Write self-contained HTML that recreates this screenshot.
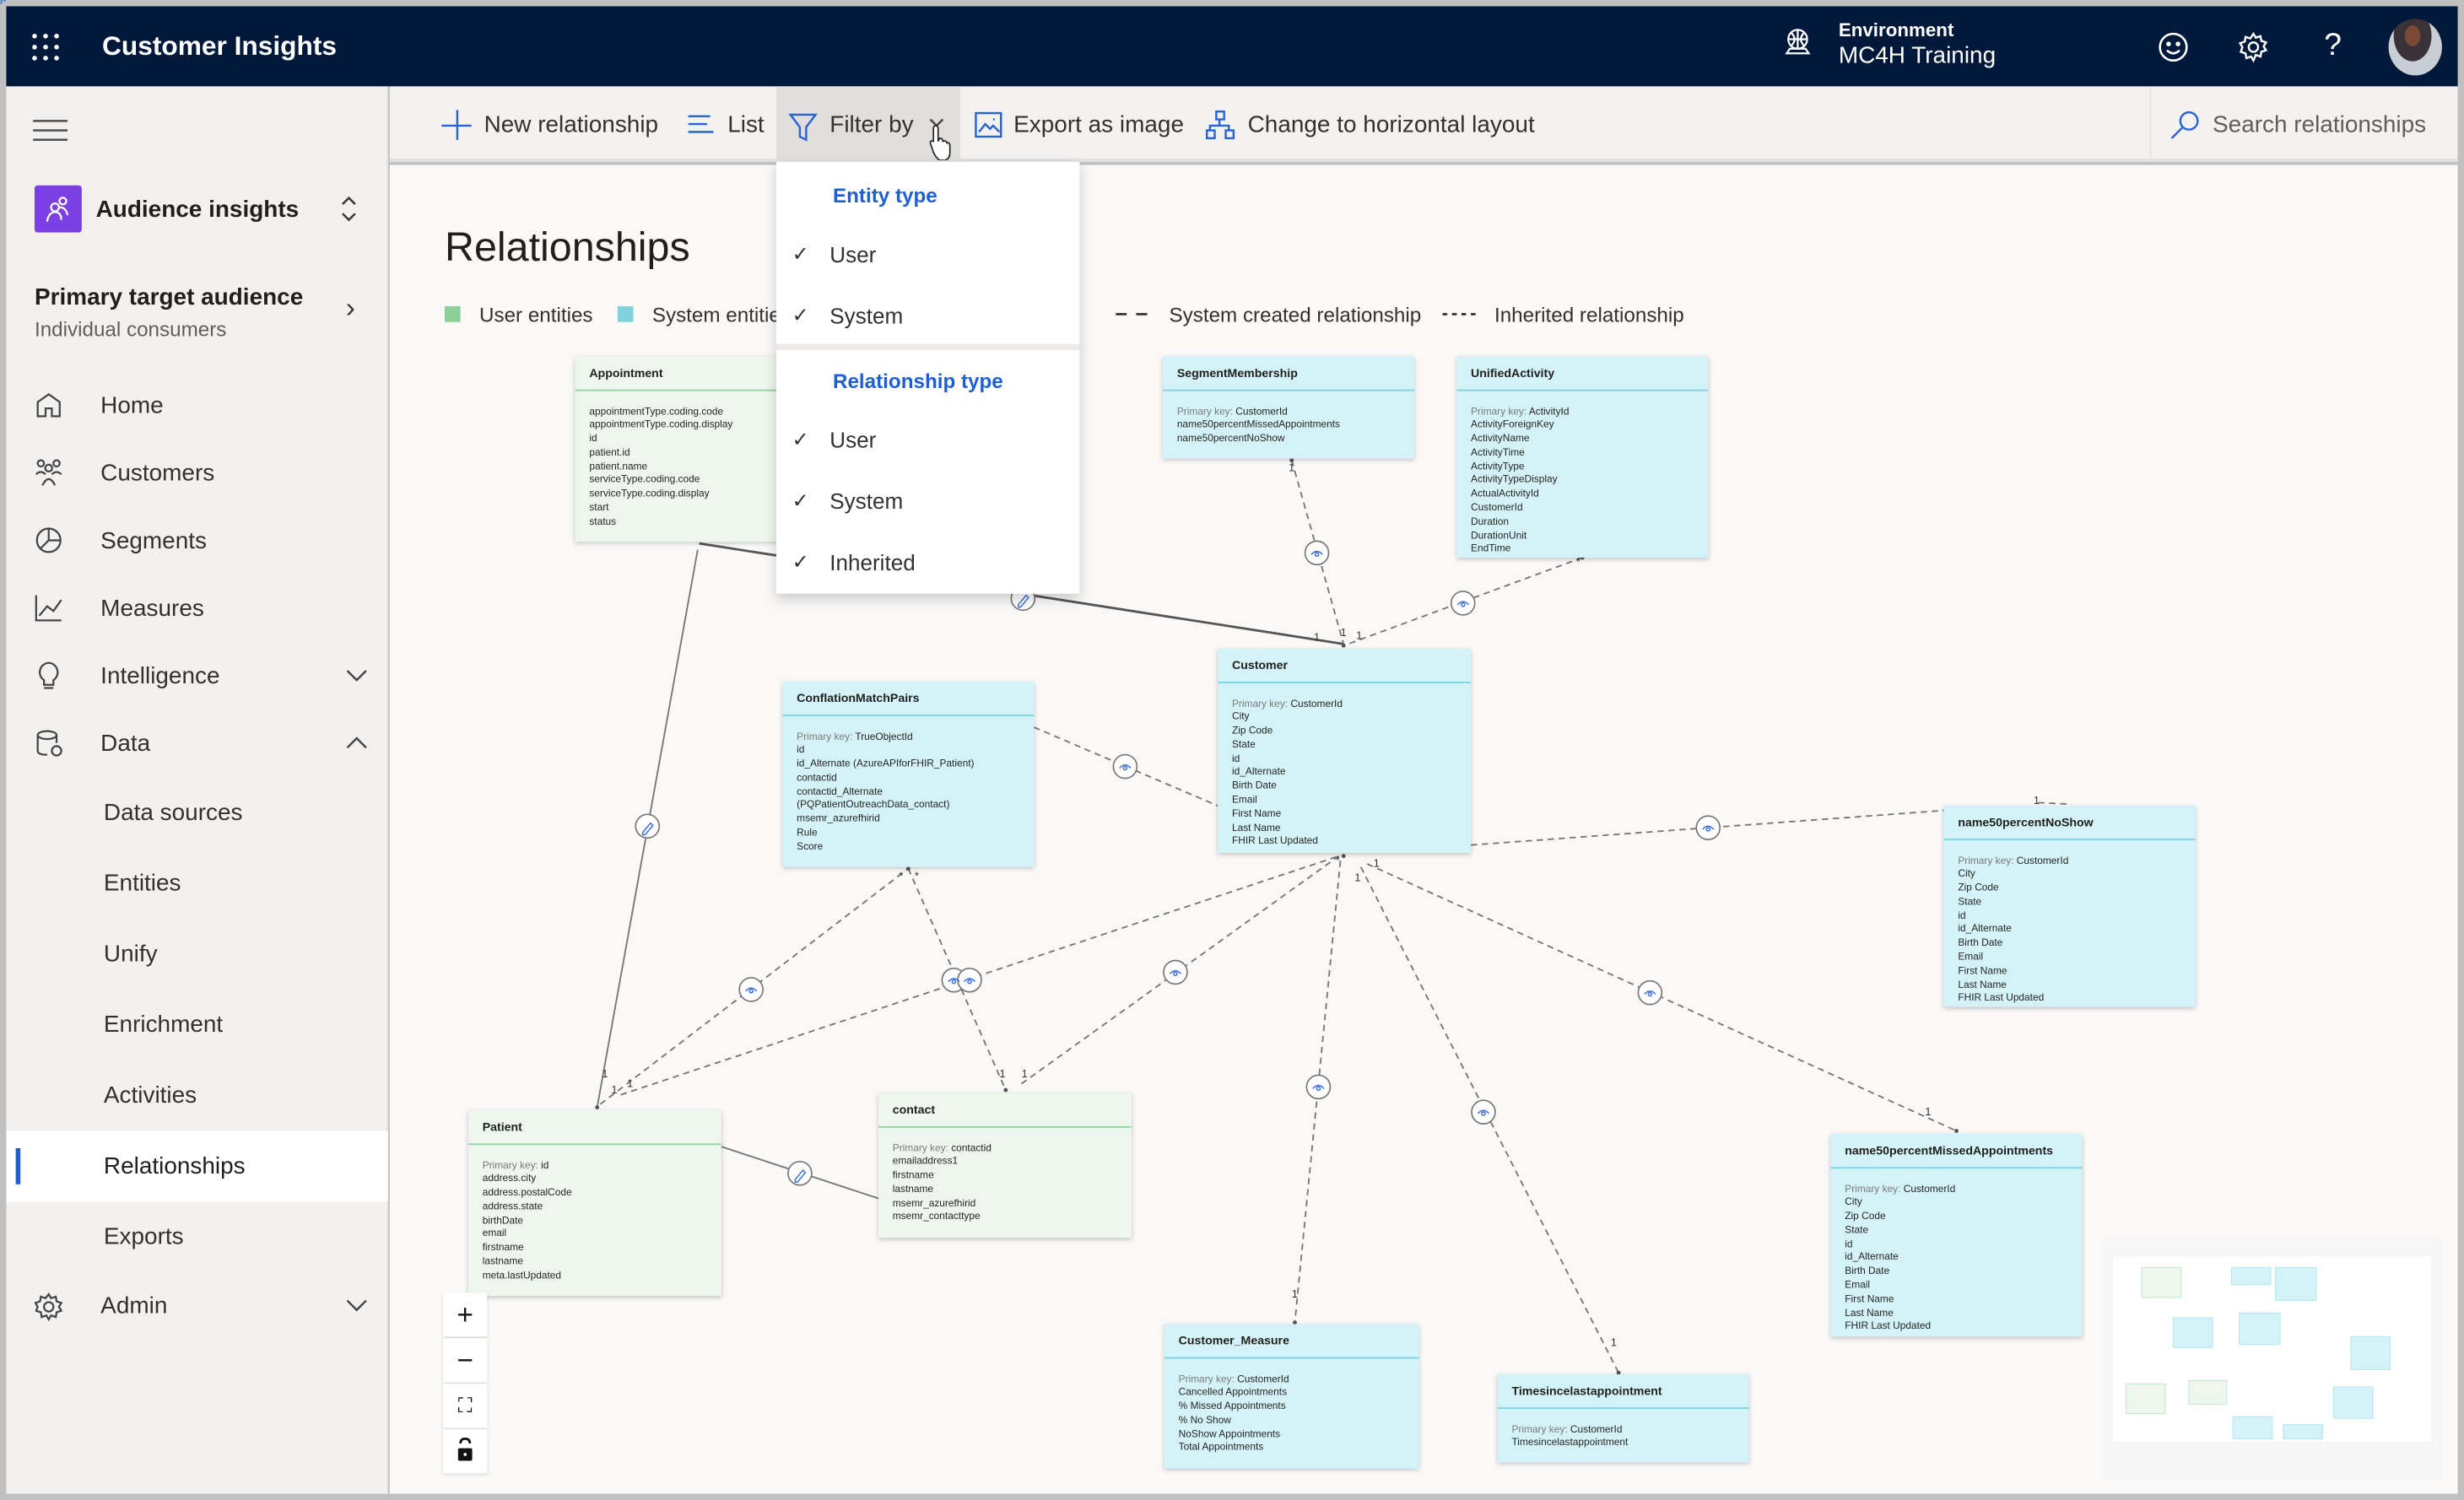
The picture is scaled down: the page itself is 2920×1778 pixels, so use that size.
<!DOCTYPE html>
<html><head><meta charset="utf-8"><style>
*{margin:0;padding:0;box-sizing:border-box}
html,body{width:2920px;height:1778px;overflow:hidden;background:#c0c0c0}
#w{position:absolute;left:0;top:0;width:1568px;height:955px;transform:scale(1.86224,1.8618);transform-origin:0 0;font-family:"Liberation Sans",Arial,sans-serif;color:#201f1e;background:#c0c0c0}
.a{position:absolute;white-space:nowrap}
#top{left:4px;top:4px;width:1560px;height:51px;background:#00183a;color:#fff}
#side{left:4px;top:55px;width:243px;height:896px;background:#f2f1f0;border-right:1px solid #e6e6e6}
#tb{left:248px;top:55px;width:1316px;height:48px;background:#f3f2f1;border-bottom:2px solid #e4e2e0}
#cv{left:248px;top:105px;width:1316px;height:846px;background:#faf9f8}
.nav{font-size:15px;color:#323130}
.ent{position:absolute;box-shadow:0 1px 3px rgba(0,0,0,.22);font-size:6.4px;color:#252423}
.ent.g{background:#edf7ee}.ent.c{background:#d4f3f8}
.ent .h{height:22px;border-bottom:1px solid;padding:6px 0 0 9px;font-size:7.6px;font-weight:bold;color:#201f1e}
.g .h{border-color:#93d3a2}.c .h{border-color:#7ed4e2}
.ent .b{padding:9.5px 9px;line-height:8.8px;white-space:nowrap}
.pk{color:#7a7a7a}
#dd{left:494px;top:103px;width:193px;height:275px;background:#fff;box-shadow:0 3px 8px rgba(0,0,0,.2)}
.dh{font-size:13px;color:#1f5fd6;font-weight:bold;left:36px}
.di{font-size:14px;color:#323130;left:34px}
.ck{left:10px;font-size:13px;color:#323130}
.zb{position:absolute;left:282px;width:28px;height:28px;background:#fff;box-shadow:0 1px 2px rgba(0,0,0,.15);text-align:center;font-size:18px;line-height:28px;color:#111}
</style></head><body><div id="w">
<div id="top" class="a"></div>
<svg class="a" style="left:20px;top:21px" width="18" height="18"><g fill="#fff"><circle cx="2" cy="2" r="1.5"/><circle cx="9" cy="2" r="1.5"/><circle cx="16" cy="2" r="1.5"/><circle cx="2" cy="9" r="1.5"/><circle cx="9" cy="9" r="1.5"/><circle cx="16" cy="9" r="1.5"/><circle cx="2" cy="16" r="1.5"/><circle cx="9" cy="16" r="1.5"/><circle cx="16" cy="16" r="1.5"/></g></svg>
<div class="a" style="left:65px;top:20px;font-size:17px;font-weight:bold;color:#fff">Customer Insights</div>
<svg class="a" style="left:1134px;top:17px" width="20" height="20" fill="none" stroke="#fff" stroke-width="1.2"><circle cx="10" cy="8" r="6"/><path d="M4 8h12M10 2v12M6 4q4 4 0 8M14 4q-4 4 0 8M3 17h14l-2-3H5z"/></svg>
<div class="a" style="left:1170px;top:12px;font-size:12px;font-weight:bold;color:#fff">Environment</div>
<div class="a" style="left:1170px;top:27px;font-size:15px;color:#fff">MC4H Training</div>
<svg class="a" style="left:1373px;top:20px" width="20" height="20" fill="none" stroke="#fff" stroke-width="1.4"><circle cx="10" cy="10" r="8.5"/><circle cx="7" cy="8" r=".8" fill="#fff"/><circle cx="13" cy="8" r=".8" fill="#fff"/><path d="M6 12q4 4 8 0"/></svg>
<svg class="a" style="left:1424px;top:20px" width="20" height="20" fill="none" stroke="#fff" stroke-width="1.3"><circle cx="10" cy="10" r="3"/><path d="M10 1.5l1.5 2.5 3-1 .5 3 3 1-1.5 2.5 1.5 2.5-3 1-.5 3-3-1L10 18.5l-1.5-2.5-3 1-.5-3-3-1L3 10 1.5 7.5l3-1 .5-3 3 1z"/></svg>
<div class="a" style="left:1479px;top:18px;font-size:20px;color:#fff">?</div>
<div class="a" style="left:1520px;top:12px;width:34px;height:36px;border-radius:50%;background:radial-gradient(ellipse at 45% 30%,#7a4a36 0 18%,#3a3236 19% 45%,#c9ced6 46%)"></div>

<div id="side" class="a"></div>
<svg class="a" style="left:21px;top:75px" width="22" height="16" stroke="#555" stroke-width="1.4"><path d="M0 2h22M0 8h22M0 14h22"/></svg>
<div class="a" style="left:22px;top:118px;width:30px;height:30px;background:#7b3fe4;border-radius:2px"></div>
<svg class="a" style="left:27px;top:123px" width="20" height="20" fill="none" stroke="#fff" stroke-width="1.2"><circle cx="8" cy="9" r="2.5"/><circle cx="13" cy="5" r="2.2"/><path d="M3 18q1-6 5-6t4 5M11 9q4 0 5 5"/></svg>
<div class="a nav" style="left:61px;top:125px;font-weight:bold;color:#201f1e">Audience insights</div>
<svg class="a" style="left:216px;top:124px" width="12" height="18" fill="none" stroke="#333" stroke-width="1.3"><path d="M2 6l4-4 4 4M2 12l4 4 4-4"/></svg>
<div class="a nav" style="left:22px;top:181px;font-weight:bold;color:#201f1e">Primary target audience</div>
<div class="a" style="left:22px;top:202px;font-size:13px;color:#605e5c">Individual consumers</div>
<div class="a" style="left:220px;top:186px;font-size:18px;color:#333">›</div>
<svg class="a" style="left:22px;top:249px" width="18" height="600" fill="none" stroke="#444" stroke-width="1.2">
<path d="M2 16V7l7-5 7 5v9H11v-5H7v5z"/>
<g transform="translate(0,43)"><circle cx="4" cy="3" r="2"/><circle cx="14" cy="3" r="2"/><circle cx="9" cy="6" r="2.2"/><path d="M1 10q3-3 6 0M11 10q3-3 6 0M5 17q4-8 8 0"/></g>
<g transform="translate(0,86)"><circle cx="9" cy="9" r="7.5"/><path d="M9 1.5V9l-5 5M9 9h7"/></g>
<g transform="translate(0,129)"><path d="M1 1v16h16M3 14l5-6 4 3 5-7"/></g>
<g transform="translate(0,172)"><path d="M9 1a6 6 0 0 1 3 11v3H6v-3A6 6 0 0 1 9 1zM6 17h6"/></g>
<g transform="translate(0,215)"><ellipse cx="8" cy="4" rx="6" ry="2.5"/><path d="M2 4v10q0 2.5 6 2.5M14 4v5"/><circle cx="14" cy="14" r="3"/></g>
<g transform="translate(0,574)"><circle cx="9" cy="9" r="3"/><path d="M9 1l1.5 2.5 3-1 .5 3 3 1-1.5 2.5 1.5 2.5-3 1-.5 3-3-1L9 17l-1.5-2.5-3 1-.5-3-3-1L2 9 .5 6.5l3-1 .5-3 3 1z"/></g>
</svg>
<div class="a nav" style="left:64px;top:250px">Home</div>
<div class="a nav" style="left:64px;top:293px">Customers</div>
<div class="a nav" style="left:64px;top:336px">Segments</div>
<div class="a nav" style="left:64px;top:379px">Measures</div>
<div class="a nav" style="left:64px;top:422px">Intelligence</div>
<div class="a nav" style="left:64px;top:465px">Data</div>
<svg class="a" style="left:220px;top:424px" width="14" height="420" fill="none" stroke="#444" stroke-width="1.3"><path d="M1 3l6 6 6-6M1 52l6-6 6 6M1 404l6 6 6-6"/></svg>
<div class="a nav" style="left:66px;top:509px">Data sources</div>
<div class="a nav" style="left:66px;top:554px">Entities</div>
<div class="a nav" style="left:66px;top:599px">Unify</div>
<div class="a nav" style="left:66px;top:644px">Enrichment</div>
<div class="a nav" style="left:66px;top:689px">Activities</div>
<div class="a" style="left:4px;top:720px;width:243px;height:45px;background:#fff"></div>
<div class="a" style="left:10px;top:731px;width:3px;height:23px;background:#1f5fd6"></div>
<div class="a nav" style="left:66px;top:734px;color:#201f1e">Relationships</div>
<div class="a nav" style="left:66px;top:779px">Exports</div>
<div class="a nav" style="left:64px;top:823px">Admin</div>

<div id="tb" class="a"></div>
<div class="a" style="left:494px;top:55px;width:117px;height:48px;background:#e1dfdd"></div>
<div class="a" style="left:1368px;top:55px;width:1px;height:48px;background:#e6e4e2"></div>
<svg class="a" style="left:280px;top:69px" width="720" height="22" fill="none" stroke="#2a63d4" stroke-width="1.3">
<path d="M11 1v19M1 11h19"/>
<path d="M158 5h14M158 10h12M158 15h16"/>
<path d="M223 4h16l-6 8v8l-4-2v-6z"/>
<path d="M312 7l4 4 4-4" stroke="#444"/>
<rect x="341" y="3" width="16" height="15"/><path d="M343 15l4-5 3 3 2-2 4 4M352 7h1"/>
<rect x="494" y="2" width="5" height="5"/><rect x="488" y="14" width="5" height="5"/><rect x="500" y="14" width="5" height="5"/><path d="M496 7v4M490 14v-3h12v3"/>
</svg>
<svg class="a" style="left:590px;top:78px" width="18" height="24" fill="#fff" stroke="#222" stroke-width=".9"><path d="M4 4q0-2 1.5-2T7 4v8l1-2q2 0 2 2 2-1 2.5 1 2-.5 2 2v4q0 4-3 5H8q-2-1-4-5L2 13q0-2 2-1z"/></svg>
<div class="a" style="left:308px;top:71px;font-size:15px;color:#323130">New relationship</div>
<div class="a" style="left:463px;top:71px;font-size:15px;color:#323130">List</div>
<div class="a" style="left:528px;top:71px;font-size:15px;color:#323130">Filter by</div>
<div class="a" style="left:645px;top:71px;font-size:15px;color:#323130">Export as image</div>
<div class="a" style="left:794px;top:71px;font-size:15px;color:#323130">Change to horizontal layout</div>
<svg class="a" style="left:1381px;top:70px" width="20" height="20" fill="none" stroke="#2a63d4" stroke-width="1.3"><circle cx="12" cy="7" r="5.5"/><path d="M8 11L1 18"/></svg>
<div class="a" style="left:1408px;top:71px;font-size:15px;color:#605e5c">Search relationships</div>

<div id="cv" class="a"></div>
<div class="a" style="left:283px;top:142px;font-size:26px;color:#201f1e">Relationships</div>
<div class="a" style="left:283px;top:195px;width:10px;height:10px;background:#8ccf97"></div>
<div class="a" style="left:305px;top:193px;font-size:13px;color:#323130">User entities</div>
<div class="a" style="left:393px;top:195px;width:10px;height:10px;background:#7fd3df"></div>
<div class="a" style="left:415px;top:193px;font-size:13px;color:#323130">System entities</div>
<div class="a" style="left:620px;top:193px;font-size:13px;color:#323130">relationship</div>
<svg class="a" style="left:710px;top:196px" width="232" height="8" stroke="#333" stroke-width="1.5"><path d="M0 4h7M13 4h7" /><path d="M208 4h3M214 4h3M220 4h3M226 4h3"/></svg>
<div class="a" style="left:744px;top:193px;font-size:13px;color:#323130">System created relationship</div>
<div class="a" style="left:951px;top:193px;font-size:13px;color:#323130">Inherited relationship</div>

<svg class="a" style="left:0;top:0" width="1568" height="955" fill="none">
<g stroke="#555" stroke-width="1.5"><path d="M445 346L855 410"/></g>
<g stroke="#777" stroke-width="1"><path d="M444 350L380 705M459 730L559 763"/></g>
<g stroke="#777" stroke-width="1" stroke-dasharray="4 3">
<path d="M822 293L855 410M1007 355L858 410M658 463L775 513M936 538L1237 516M1297 511L1318 512"/>
<path d="M382 703L578 553M395 697L852 545M578 553L640 694M650 690L852 545M853 548L824 842M866 552L1030 874M870 550L1245 720"/>
</g>
<g fill="#555"><circle cx="855" cy="411" r="1.3"/><circle cx="578" cy="553" r="1.3"/><circle cx="380" cy="705" r="1.3"/><circle cx="824" cy="842" r="1.3"/><circle cx="1030" cy="874" r="1.3"/><circle cx="1245" cy="720" r="1.3"/><circle cx="855" cy="545" r="1.3"/><circle cx="640" cy="694" r="1.3"/><circle cx="822" cy="293" r="1.3"/><circle cx="1007" cy="355" r="1.3"/></g>
<g font-family="Liberation Sans" font-size="7" fill="#333"><text x="836" y="408">1</text><text x="853" y="405">1</text><text x="863" y="407">1</text><text x="820" y="300">1</text><text x="1294" y="512">1</text><text x="874" y="552">1</text><text x="862" y="561">1</text><text x="383" y="686">1</text><text x="389" y="696">1</text><text x="399" y="692">1</text><text x="636" y="686">1</text><text x="650" y="686">1</text><text x="822" y="826">1</text><text x="1025" y="857">1</text><text x="1225" y="710">1</text><text x="850" y="550">*</text><text x="572" y="560">*</text><text x="582" y="560">*</text><text x="1003" y="360">*</text></g>
<g fill="#fff" stroke="#777" stroke-width=".9">
<circle cx="838" cy="352" r="7.5"/><circle cx="931" cy="384" r="7.5"/><circle cx="716" cy="488" r="7.5"/><circle cx="1087" cy="527" r="7.5"/><circle cx="478" cy="630" r="7.5"/><circle cx="607" cy="624" r="7.5"/><circle cx="617" cy="624" r="7.5"/><circle cx="748" cy="619" r="7.5"/><circle cx="839" cy="692" r="7.5"/><circle cx="944" cy="708" r="7.5"/><circle cx="1050" cy="632" r="7.5"/>
<circle cx="651" cy="381" r="7.5"/><circle cx="412" cy="526" r="7.5"/><circle cx="509" cy="747" r="7.5"/></g>
<g stroke="#3b6fe0" stroke-width=".8">
<g id="ey"><path d="M-3.5 1q3.5-4 7 0"/><circle cx="0" cy="1" r="1.1"/></g>
</g>
<g stroke="#3b6fe0" stroke-width=".8">
<use href="#ey" x="838" y="352"/><use href="#ey" x="931" y="384"/><use href="#ey" x="716" y="488"/><use href="#ey" x="1087" y="527"/><use href="#ey" x="478" y="630"/><use href="#ey" x="607" y="624"/><use href="#ey" x="617" y="624"/><use href="#ey" x="748" y="619"/><use href="#ey" x="839" y="692"/><use href="#ey" x="944" y="708"/><use href="#ey" x="1050" y="632"/>
<path d="M648 385l5-6 1.5 1.5-5 6h-1.5zM409 530l5-6 1.5 1.5-5 6h-1.5zM506 751l5-6 1.5 1.5-5 6h-1.5z"/>
</g>
</svg>

<div class="ent g" style="left:366px;top:227px;width:160px;height:118px"><div class="h">Appointment</div><div class="b">appointmentType.coding.code<br>appointmentType.coding.display<br>id<br>patient.id<br>patient.name<br>serviceType.coding.code<br>serviceType.coding.display<br>start<br>status</div></div>
<div class="ent c" style="left:740px;top:227px;width:160px;height:65px"><div class="h">SegmentMembership</div><div class="b"><span class="pk">Primary key: </span>CustomerId<br>name50percentMissedAppointments<br>name50percentNoShow</div></div>
<div class="ent c" style="left:927px;top:227px;width:160px;height:128px"><div class="h">UnifiedActivity</div><div class="b"><span class="pk">Primary key: </span>ActivityId<br>ActivityForeignKey<br>ActivityName<br>ActivityTime<br>ActivityType<br>ActivityTypeDisplay<br>ActualActivityId<br>CustomerId<br>Duration<br>DurationUnit<br>EndTime</div></div>
<div class="ent c" style="left:498px;top:434px;width:160px;height:118px"><div class="h">ConflationMatchPairs</div><div class="b"><span class="pk">Primary key: </span>TrueObjectId<br>id<br>id_Alternate (AzureAPIforFHIR_Patient)<br>contactid<br>contactid_Alternate<br>(PQPatientOutreachData_contact)<br>msemr_azurefhirid<br>Rule<br>Score</div></div>
<div class="ent c" style="left:775px;top:413px;width:161px;height:130px"><div class="h">Customer</div><div class="b"><span class="pk">Primary key: </span>CustomerId<br>City<br>Zip Code<br>State<br>id<br>id_Alternate<br>Birth Date<br>Email<br>First Name<br>Last Name<br>FHIR Last Updated</div></div>
<div class="ent c" style="left:1237px;top:513px;width:160px;height:128px"><div class="h">name50percentNoShow</div><div class="b"><span class="pk">Primary key: </span>CustomerId<br>City<br>Zip Code<br>State<br>id<br>id_Alternate<br>Birth Date<br>Email<br>First Name<br>Last Name<br>FHIR Last Updated</div></div>
<div class="ent g" style="left:298px;top:707px;width:161px;height:118px"><div class="h">Patient</div><div class="b"><span class="pk">Primary key: </span>id<br>address.city<br>address.postalCode<br>address.state<br>birthDate<br>email<br>firstname<br>lastname<br>meta.lastUpdated</div></div>
<div class="ent g" style="left:559px;top:696px;width:161px;height:92px"><div class="h">contact</div><div class="b"><span class="pk">Primary key: </span>contactid<br>emailaddress1<br>firstname<br>lastname<br>msemr_azurefhirid<br>msemr_contacttype</div></div>
<div class="ent c" style="left:1165px;top:722px;width:160px;height:129px"><div class="h">name50percentMissedAppointments</div><div class="b"><span class="pk">Primary key: </span>CustomerId<br>City<br>Zip Code<br>State<br>id<br>id_Alternate<br>Birth Date<br>Email<br>First Name<br>Last Name<br>FHIR Last Updated</div></div>
<div class="ent c" style="left:741px;top:843px;width:162px;height:92px"><div class="h">Customer_Measure</div><div class="b"><span class="pk">Primary key: </span>CustomerId<br>Cancelled Appointments<br>% Missed Appointments<br>% No Show<br>NoShow Appointments<br>Total Appointments</div></div>
<div class="ent c" style="left:953px;top:875px;width:160px;height:56px"><div class="h">Timesincelastappointment</div><div class="b"><span class="pk">Primary key: </span>CustomerId<br>Timesincelastappointment</div></div>

<div class="zb" style="top:823px">+</div>
<div class="zb" style="top:852px">−</div>
<div class="zb" style="top:881px;font-size:13px">⛶</div>
<div class="zb" style="top:910px"><svg width="28" height="28"><path d="M11 9q0-3 3-3t3 3" fill="none" stroke="#111" stroke-width="1.5"/><rect x="9.5" y="12" width="9" height="8" rx="1" fill="#111"/><circle cx="14" cy="16" r="1" fill="#fff"/></svg></div>

<div class="a" style="left:1338px;top:790px;width:216px;height:152px;background:#f6f6f6"></div>
<div class="a" style="left:1345px;top:800px;width:202px;height:118px;background:#fff"></div>
<svg class="a" style="left:0;top:0" width="1568" height="955" stroke-width=".6">
<g fill="#edf7ee" stroke="#c9e8d0"><rect x="1363" y="807" width="25" height="19"/><rect x="1353" y="881" width="25" height="19"/><rect x="1393" y="879" width="24" height="15"/></g>
<g fill="#d4f3f8" stroke="#b8e8f0"><rect x="1420" y="807" width="25" height="11"/><rect x="1448" y="807" width="26" height="21"/><rect x="1383" y="839" width="25" height="19"/><rect x="1425" y="836" width="26" height="20"/><rect x="1496" y="851" width="25" height="21"/><rect x="1421" y="902" width="25" height="14"/><rect x="1453" y="907" width="25" height="9"/><rect x="1485" y="883" width="25" height="20"/></g>
</svg>

<div id="dd" class="a">
<div class="a dh" style="top:14px">Entity type</div>
<div class="a ck" style="top:51px">✓</div><div class="a di" style="top:51px">User</div>
<div class="a ck" style="top:90px">✓</div><div class="a di" style="top:90px">System</div>
<div class="a" style="left:0;top:116px;width:193px;height:4px;background:#edebe9"></div>
<div class="a dh" style="top:132px">Relationship type</div>
<div class="a ck" style="top:169px">✓</div><div class="a di" style="top:169px">User</div>
<div class="a ck" style="top:208px">✓</div><div class="a di" style="top:208px">System</div>
<div class="a ck" style="top:247px">✓</div><div class="a di" style="top:247px">Inherited</div>
</div>
</div></body></html>
